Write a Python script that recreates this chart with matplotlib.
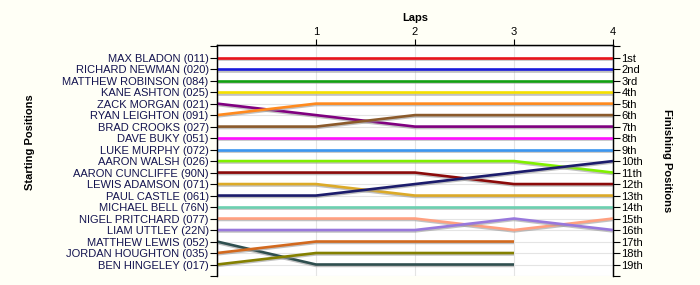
import matplotlib
matplotlib.use("Agg")
import matplotlib.pyplot as plt
import matplotlib.patheffects as pe

plt.rcParams['font.family'] = ['Liberation Sans', 'DejaVu Sans']

drivers = ["MAX BLADON (011)", "RICHARD NEWMAN (020)", "MATTHEW ROBINSON (084)",
           "KANE ASHTON (025)", "ZACK MORGAN (021)", "RYAN LEIGHTON (091)",
           "BRAD CROOKS (027)", "DAVE BUKY (051)", "LUKE MURPHY (072)",
           "AARON WALSH (026)", "AARON CUNCLIFFE (90N)", "LEWIS ADAMSON (071)",
           "PAUL CASTLE (061)", "MICHAEL BELL (76N)", "NIGEL PRITCHARD (077)",
           "LIAM UTTLEY (22N)", "MATTHEW LEWIS (052)", "JORDAN HOUGHTON (035)",
           "BEN HINGELEY (017)"]

positions = [
    [1, 1, 1, 1, 1],
    [2, 2, 2, 2, 2],
    [3, 3, 3, 3, 3],
    [4, 4, 4, 4, 4],
    [5, 6, 7, 7, 7],
    [6, 5, 5, 5, 5],
    [7, 7, 6, 6, 6],
    [8, 8, 8, 8, 8],
    [9, 9, 9, 9, 9],
    [10, 10, 10, 10, 11],
    [11, 11, 11, 12, 12],
    [12, 12, 13, 13, 13],
    [13, 13, 12, 11, 10],
    [14, 14, 14, 14, 14],
    [15, 15, 15, 16, 15],
    [16, 16, 16, 15, 16],
    [17, 19, 19, 19],
    [18, 17, 17, 17],
    [19, 18, 18, 18],
]

colors = ["#e8141e", "#1a1adc", "#12a012", "#f5e000", "#800080", "#ff8a1e",
          "#8b5a2b", "#ff10ff", "#3c96f0", "#80f000", "#8b0a0a", "#dcaa28",
          "#1c1c6c", "#6cd0b0", "#ffa080", "#9878dc", "#2f4f4f", "#d2691e",
          "#848000"]

finish_labels = ["1st", "2nd", "3rd"] + [f"{i}th" for i in range(4, 20)]
lap_ticks = [1, 2, 3, 4]

fig = plt.figure(figsize=(7.0, 2.85), dpi=100, facecolor="#fffff6")
ax = fig.add_axes([217/700, 1 - 276/285, (613 - 217)/700, (276 - 45)/285])
ax.set_facecolor("white")

for pos, col in zip(positions, colors):
    xs = list(range(len(pos)))
    ax.plot(xs, pos, color=col, lw=1.9, solid_capstyle="butt", zorder=3,
            path_effects=[pe.SimpleLineShadow(offset=(0, -1.0), shadow_color="#999999", alpha=0.6),
                          pe.Normal()])

ax.set_xlim(0, 4)
ax.set_ylim(20, -0.1)

ax.xaxis.tick_top()
ax.xaxis.set_label_position("top")
ax.set_xticks(lap_ticks)
ax.set_xticklabels([str(t) for t in lap_ticks], fontsize=8)
ax.set_xlabel("Laps", fontsize=8, fontweight="bold", labelpad=4)

ax.set_yticks(range(0, 21))
ax.set_yticklabels([""] + drivers + [""], fontsize=8, color="#141450")
ax.tick_params(axis="y", length=5, width=0.8, pad=1)
ax.tick_params(axis="x", length=4, width=0.8, pad=2)

ax2 = ax.twinx()
ax2.set_ylim(20, -0.1)
ax2.set_yticks(range(0, 21))
ax2.set_yticklabels([""] + finish_labels + [""], fontsize=8)
ax2.tick_params(axis="y", length=5, width=0.8, pad=1)
ax2.set_ylabel("Finishing Positions", fontsize=8, fontweight="bold", rotation=-90, labelpad=21)

ax.grid(True, color="#e4e4e4", lw=0.8, zorder=0)
for a in (ax, ax2):
    a.spines["bottom"].set_visible(False)
    for s in ("top", "left", "right"):
        a.spines[s].set_linewidth(0.9)

fig.text(30/700, 0.5, "Starting Positions", rotation=90, fontsize=8,
         fontweight="bold", va="center", ha="center")

fig.savefig("out.png", dpi=100, facecolor=fig.get_facecolor())
